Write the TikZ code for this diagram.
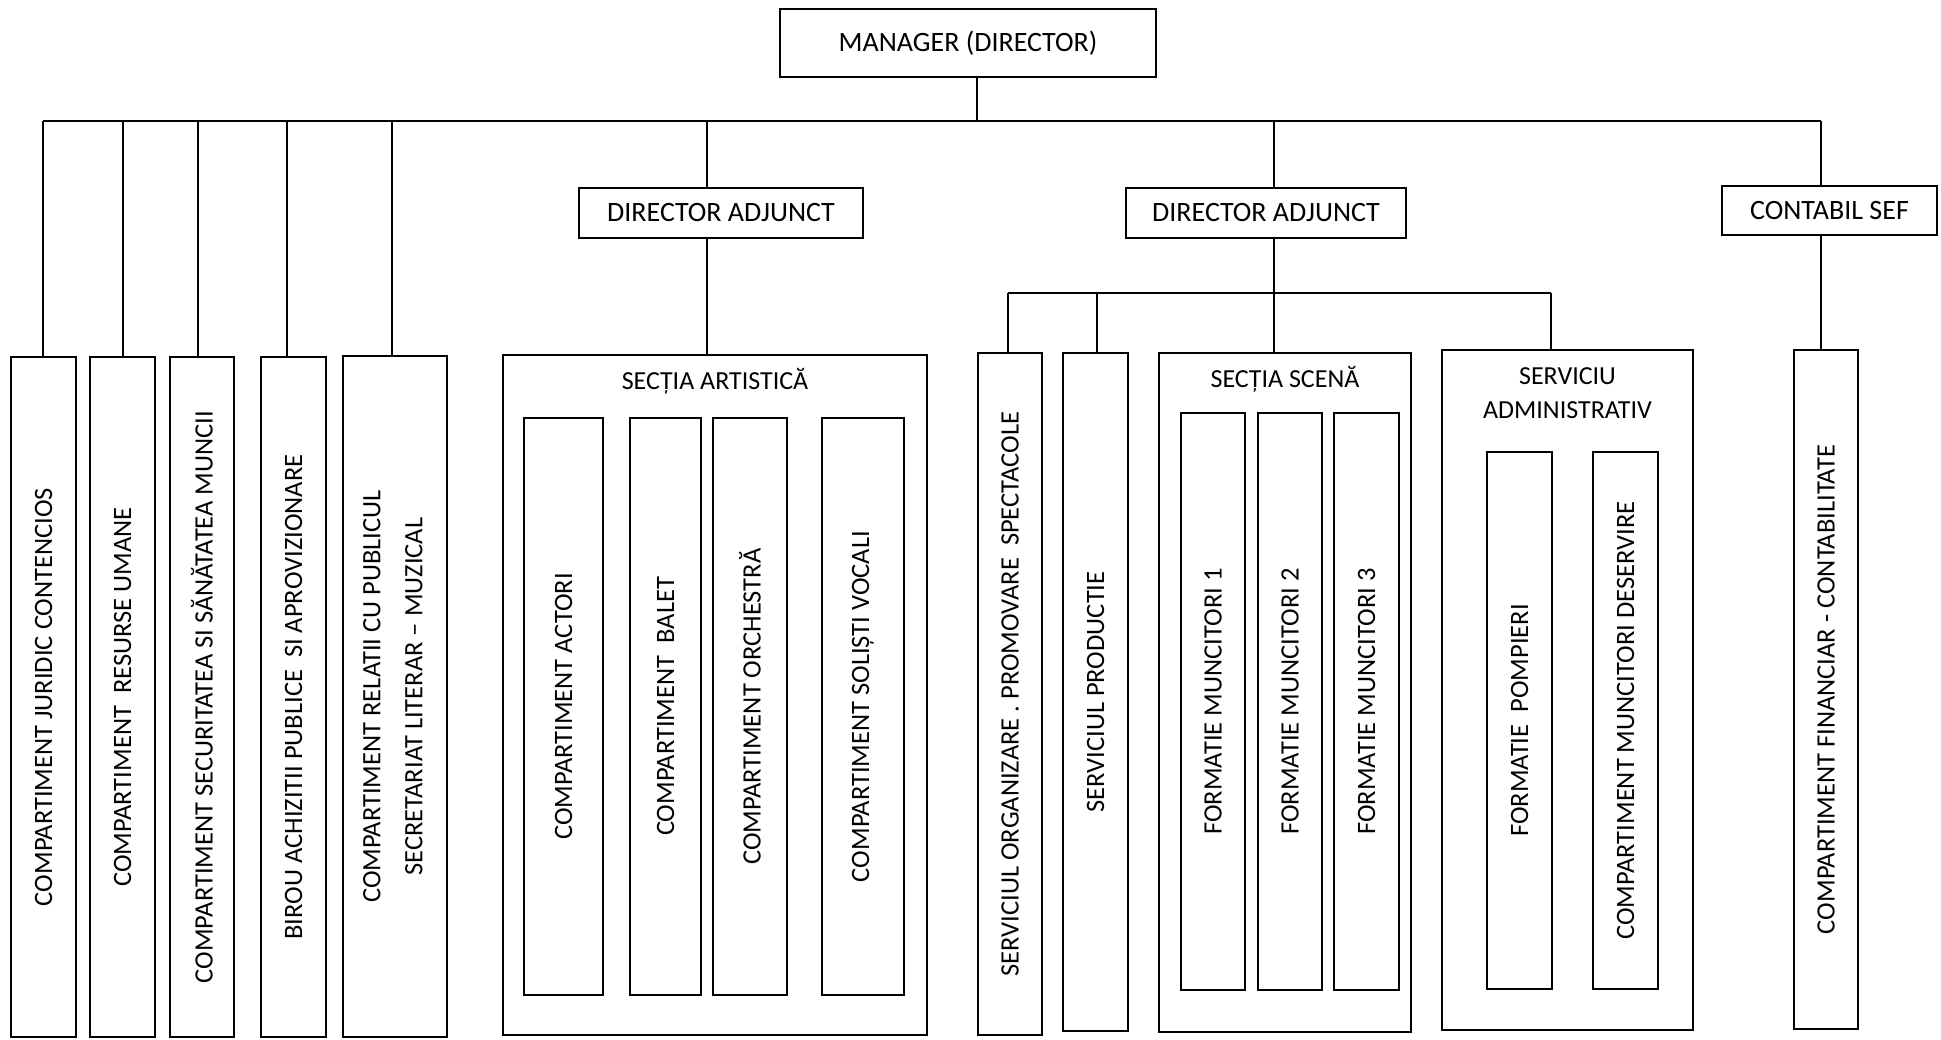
\documentclass[tikz,border=0pt]{standalone}
\usepackage{fontspec}
\setmainfont{Carlito}
\newcommand{\myvt}[1]{\rotatebox{90}{#1}}
\begin{document}
\begin{tikzpicture}[x=1pt,y=-1pt,
  box/.style={draw, line width=1.8pt, inner sep=0pt, align=center, font=\fontsize{28}{34}\selectfont},
  vbox/.style={draw, line width=1.8pt, inner sep=0pt, font=\fontsize{26.5}{32}\selectfont},
  frame/.style={draw, line width=1.8pt, inner sep=0pt},
  ttl/.style={inner sep=0pt, align=center, font=\fontsize{26}{34}\selectfont},
  link/.style={line width=1.3pt}]
\useasboundingbox (0,0) rectangle (1941,1040);

% top level
\node[box, minimum width=376, minimum height=68] (mgr) at (968,43) {MANAGER (DIRECTOR)};
\node[box, minimum width=284, minimum height=50] (da1) at (721,213) {DIRECTOR ADJUNCT};
\node[box, minimum width=280, minimum height=50] (da2) at (1266,213) {DIRECTOR ADJUNCT};
\node[box, minimum width=215, minimum height=49] (cs) at (1829.5,210.5) {CONTABIL SEF};

% left column boxes
\node[vbox, minimum width=65, minimum height=680] (l1) at (43.5,697) {\myvt{COMPARTIMENT JURIDIC CONTENCIOS}};
\node[vbox, minimum width=65, minimum height=680] (l2) at (122.5,697) {\myvt{COMPARTIMENT\ \ RESURSE UMANE}};
\node[vbox, minimum width=64, minimum height=680] (l3) at (202,697) {\myvt{COMPARTIMENT SECURITATEA SI SĂNĂTATEA MUNCII}};
\node[vbox, minimum width=65, minimum height=680] (l4) at (293.5,697) {\myvt{BIROU ACHIZITII PUBLICE\ \ SI APROVIZIONARE}};
\node[vbox, minimum width=104, minimum height=681] (l5) at (395,696.5) {\myvt{\begin{tabular}{@{}c@{}}COMPARTIMENT RELATII CU PUBLICUL\\[10pt]SECRETARIAT LITERAR – MUZICAL\end{tabular}}};

% Sectia artistica
\node[frame, minimum width=424, minimum height=680] (sa) at (715,695) {};
\node[ttl] (sat) at (715,381) {SECȚIA ARTISTICĂ};
\node[vbox, minimum width=79, minimum height=577] (sa1) at (563.5,706.5) {\myvt{COMPARTIMENT ACTORI}};
\node[vbox, minimum width=71, minimum height=577] (sa2) at (665.5,706.5) {\myvt{COMPARTIMENT\ \ BALET}};
\node[vbox, minimum width=74, minimum height=577] (sa3) at (750,706.5) {\myvt{COMPARTIMENT ORCHESTRĂ}};
\node[vbox, minimum width=82, minimum height=577] (sa4) at (863,706.5) {\myvt{COMPARTIMENT SOLIȘTI VOCALI}};

% under DA2
\node[vbox, minimum width=64, minimum height=682] (so) at (1010,694) {\myvt{SERVICIUL ORGANIZARE . PROMOVARE\ \ SPECTACOLE}};
\node[vbox, minimum width=65, minimum height=678] (sp) at (1095.5,692) {\myvt{SERVICIUL PRODUCTIE}};
\node[frame, minimum width=252, minimum height=679] (ss) at (1285,692.5) {};
\node[ttl] (sst) at (1285,379) {SECȚIA SCENĂ};
\node[vbox, minimum width=64, minimum height=577] (ss1) at (1213,701.5) {\myvt{FORMATIE MUNCITORI 1}};
\node[vbox, minimum width=64, minimum height=577] (ss2) at (1290,701.5) {\myvt{FORMATIE MUNCITORI 2}};
\node[vbox, minimum width=65, minimum height=577] (ss3) at (1366.5,701.5) {\myvt{FORMATIE MUNCITORI 3}};
\node[frame, minimum width=251, minimum height=680] (adm) at (1567.5,690) {};
\node[ttl] (admt) at (1567.5,393) {SERVICIU\\ADMINISTRATIV};
\node[vbox, minimum width=65, minimum height=537] (adm1) at (1519.5,720.5) {\myvt{FORMATIE\ \ POMPIERI}};
\node[vbox, minimum width=65, minimum height=537] (adm2) at (1625.5,720.5) {\myvt{COMPARTIMENT MUNCITORI DESERVIRE}};

% under contabil sef
\node[vbox, minimum width=64, minimum height=679] (cf) at (1826,689.5) {\myvt{COMPARTIMENT FINANCIAR - CONTABILITATE}};

% bus coordinates
\coordinate (bm) at (977,121);
\coordinate (b1) at (43,121);
\coordinate (b2) at (123,121);
\coordinate (b3) at (198,121);
\coordinate (b4) at (287,121);
\coordinate (b5) at (392,121);
\coordinate (b6) at (707,121);
\coordinate (b7) at (1274,121);
\coordinate (b8) at (1821,121);
\coordinate (s1) at (1008,293);
\coordinate (s2) at (1097,293);
\coordinate (s3) at (1274,293);
\coordinate (s4) at (1551,293);

\draw[link] (bm |- mgr.south) -- (bm);
\draw[link] (b1) -- (b8);
\draw[link] (b1) -- (b1 |- l1.north);
\draw[link] (b2) -- (b2 |- l2.north);
\draw[link] (b3) -- (b3 |- l3.north);
\draw[link] (b4) -- (b4 |- l4.north);
\draw[link] (b5) -- (b5 |- l5.north);
\draw[link] (b6) -- (b6 |- da1.north);
\draw[link] (b6 |- da1.south) -- (b6 |- sa.north);
\draw[link] (b7) -- (b7 |- da2.north);
\draw[link] (b7 |- da2.south) -- (s3);
\draw[link] (b8) -- (b8 |- cs.north);
\draw[link] (b8 |- cs.south) -- (b8 |- cf.north);
\draw[link] (s1) -- (s4);
\draw[link] (s1) -- (s1 |- so.north);
\draw[link] (s2) -- (s2 |- sp.north);
\draw[link] (s3) -- (s3 |- ss.north);
\draw[link] (s4) -- (s4 |- adm.north);
\end{tikzpicture}
\end{document}
